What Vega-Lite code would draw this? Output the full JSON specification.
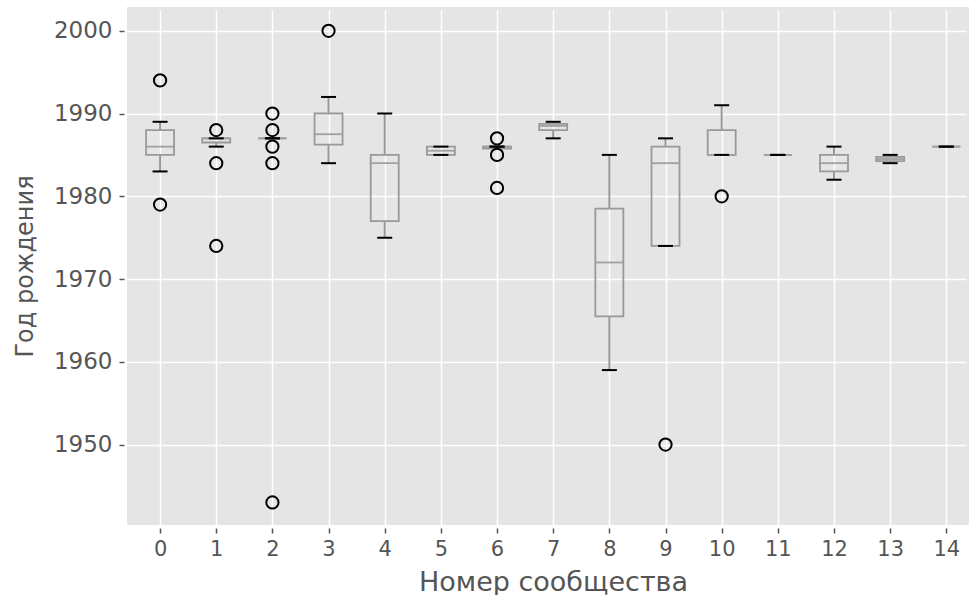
{
  "$schema": "https://vega.github.io/schema/vega-lite/v6.json",
  "width": 842,
  "height": 518,
  "autosize": "none",
  "padding": {"left": 127, "top": 7, "right": 0, "bottom": 70},
  "background": "white",
  "config": {
    "view": {"fill": "#E5E5E5", "stroke": null},
    "font": "DejaVu Sans",
    "axisX": {
      "format": "d",
      "domain": false,
      "grid": true, "gridColor": "white", "gridWidth": 1.5,
      "offset": 3,
      "tickSize": 5, "tickColor": "#555555", "tickWidth": 1.5,
      "labelFontSize": 21, "labelColor": "#555555", "labelPadding": 5,
      "labelFlush": false, "labelOverlap": false,
      "titleFontSize": 27, "titleFontWeight": "normal", "titleColor": "#555555",
      "titleBaseline": "alphabetic", "titleX": 426, "titleY": 62
    },
    "axisY": {
      "format": "d",
      "domain": false,
      "grid": true, "gridColor": "white", "gridWidth": 1.5,
      "offset": 3,
      "tickSize": 5, "tickColor": "#555555", "tickWidth": 1.5,
      "labelFontSize": 23, "labelColor": "#555555", "labelPadding": 7,
      "labelFlush": false, "labelOverlap": false,
      "titleFontSize": 24, "titleFontWeight": "normal", "titleColor": "#555555",
      "titleBaseline": "alphabetic", "titleX": -92
    }
  },
  "datasets": {
    "boxes": [
      {"group": 0, "lower": 1983, "q1": 1985, "median": 1986, "q3": 1988, "upper": 1989},
      {"group": 1, "lower": 1986, "q1": 1986.5, "median": 1987, "q3": 1987, "upper": 1987},
      {"group": 2, "lower": 1987, "q1": 1987, "median": 1987, "q3": 1987, "upper": 1987},
      {"group": 3, "lower": 1984, "q1": 1986.25, "median": 1987.5, "q3": 1990, "upper": 1992},
      {"group": 4, "lower": 1975, "q1": 1977, "median": 1984, "q3": 1985, "upper": 1990},
      {"group": 5, "lower": 1985, "q1": 1985, "median": 1985.5, "q3": 1986, "upper": 1986},
      {"group": 6, "lower": 1986, "q1": 1985.75, "median": 1986, "q3": 1986, "upper": 1986},
      {"group": 7, "lower": 1987, "q1": 1988, "median": 1988.5, "q3": 1988.75, "upper": 1989},
      {"group": 8, "lower": 1959, "q1": 1965.5, "median": 1972, "q3": 1978.5, "upper": 1985},
      {"group": 9, "lower": 1974, "q1": 1974, "median": 1984, "q3": 1986, "upper": 1987},
      {"group": 10, "lower": 1985, "q1": 1985, "median": 1985, "q3": 1988, "upper": 1991},
      {"group": 11, "lower": 1985, "q1": 1985, "median": 1985, "q3": 1985, "upper": 1985},
      {"group": 12, "lower": 1982, "q1": 1983, "median": 1984, "q3": 1985, "upper": 1986},
      {"group": 13, "lower": 1984, "q1": 1984.25, "median": 1984.5, "q3": 1984.75, "upper": 1985},
      {"group": 14, "lower": 1986, "q1": 1986, "median": 1986, "q3": 1986, "upper": 1986}
    ],
    "outliers": [
      {"group": 0, "year": 1994},
      {"group": 0, "year": 1979},
      {"group": 1, "year": 1988},
      {"group": 1, "year": 1984},
      {"group": 1, "year": 1974},
      {"group": 2, "year": 1990},
      {"group": 2, "year": 1988},
      {"group": 2, "year": 1986},
      {"group": 2, "year": 1984},
      {"group": 2, "year": 1943},
      {"group": 3, "year": 2000},
      {"group": 6, "year": 1987},
      {"group": 6, "year": 1985},
      {"group": 6, "year": 1981},
      {"group": 9, "year": 1950},
      {"group": 10, "year": 1980}
    ]
  },
  "layer": [
    {
      "data": {"name": "boxes"},
      "mark": {"type": "rule", "color": "#999999", "strokeWidth": 2},
      "encoding": {
        "x": {
          "field": "group", "type": "quantitative", "title": "Номер сообщества",
          "scale": {"domain": [-0.5, 14.315], "nice": false, "zero": false},
          "axis": {"values": [0,1,2,3,4,5,6,7,8,9,10,11,12,13,14]}
        },
        "y": {
          "field": "upper", "type": "quantitative", "title": "Год рождения",
          "scale": {"domain": [1940.28, 2002.87], "nice": false, "zero": false},
          "axis": {"values": [1950, 1960, 1970, 1980, 1990, 2000]}
        },
        "y2": {"field": "q3"}
      }
    },
    {
      "data": {"name": "boxes"},
      "mark": {"type": "rule", "color": "#999999", "strokeWidth": 2},
      "encoding": {
        "x": {"field": "group", "type": "quantitative", "title": "Номер сообщества", "axis": {"values": [0,1,2,3,4,5,6,7,8,9,10,11,12,13,14]}},
        "y": {"field": "lower", "type": "quantitative", "title": "Год рождения", "axis": {"values": [1950, 1960, 1970, 1980, 1990, 2000]}},
        "y2": {"field": "q1"}
      }
    },
    {
      "data": {"name": "boxes"},
      "mark": {"type": "bar", "width": 28, "fill": "transparent", "stroke": "#999999", "strokeWidth": 1.8},
      "encoding": {
        "x": {"field": "group", "type": "quantitative", "title": "Номер сообщества", "axis": {"values": [0,1,2,3,4,5,6,7,8,9,10,11,12,13,14]}},
        "y": {"field": "q1", "type": "quantitative", "title": "Год рождения", "axis": {"values": [1950, 1960, 1970, 1980, 1990, 2000]}},
        "y2": {"field": "q3"}
      }
    },
    {
      "data": {"name": "boxes"},
      "mark": {"type": "tick", "orient": "horizontal", "size": 28, "thickness": 1.8, "color": "#a0a0a0", "opacity": 1},
      "encoding": {
        "x": {"field": "group", "type": "quantitative", "title": "Номер сообщества", "axis": {"values": [0,1,2,3,4,5,6,7,8,9,10,11,12,13,14]}},
        "y": {"field": "median", "type": "quantitative", "title": "Год рождения", "axis": {"values": [1950, 1960, 1970, 1980, 1990, 2000]}}
      }
    },
    {
      "data": {"name": "boxes"},
      "mark": {"type": "tick", "orient": "horizontal", "size": 15, "thickness": 2, "color": "black", "opacity": 1},
      "encoding": {
        "x": {"field": "group", "type": "quantitative", "title": "Номер сообщества", "axis": {"values": [0,1,2,3,4,5,6,7,8,9,10,11,12,13,14]}},
        "y": {"field": "upper", "type": "quantitative", "title": "Год рождения", "axis": {"values": [1950, 1960, 1970, 1980, 1990, 2000]}}
      }
    },
    {
      "data": {"name": "boxes"},
      "mark": {"type": "tick", "orient": "horizontal", "size": 15, "thickness": 2, "color": "black", "opacity": 1},
      "encoding": {
        "x": {"field": "group", "type": "quantitative", "title": "Номер сообщества", "axis": {"values": [0,1,2,3,4,5,6,7,8,9,10,11,12,13,14]}},
        "y": {"field": "lower", "type": "quantitative", "title": "Год рождения", "axis": {"values": [1950, 1960, 1970, 1980, 1990, 2000]}}
      }
    },
    {
      "data": {"name": "outliers"},
      "mark": {"type": "point", "shape": "circle", "filled": false, "size": 150, "stroke": "black", "strokeWidth": 2, "opacity": 1},
      "encoding": {
        "x": {"field": "group", "type": "quantitative", "title": "Номер сообщества", "axis": {"values": [0,1,2,3,4,5,6,7,8,9,10,11,12,13,14]}},
        "y": {"field": "year", "type": "quantitative", "title": "Год рождения", "axis": {"values": [1950, 1960, 1970, 1980, 1990, 2000]}}
      }
    }
  ]
}
